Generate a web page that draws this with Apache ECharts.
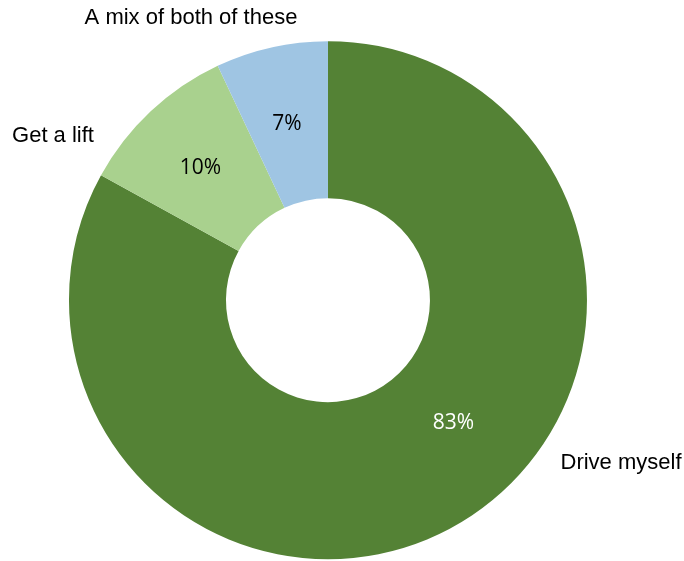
<!DOCTYPE html>
<html>
<head>
<meta charset="utf-8">
<script src="https://cdn.jsdelivr.net/npm/echarts@6/dist/echarts.min.js"></script>
<style>
  html, body { margin: 0; padding: 0; background: #fff; }
  #main { width: 684px; height: 561px; }
</style>
</head>
<body>
<div id="main"></div>
<script>
// 数据
const categories = ['Drive myself', 'Get a lift', 'A mix of both of these'];
const values = [83, 10, 7];
const sliceColors = ['#548235', '#A9D18E', '#9FC5E3'];
const pctColors = ['#ffffff', '#000000', '#000000'];

// 标签位置（Excel 风格）
const namePos = [[621, 463], [53, 136], [191, 18]];
const pctShift = [[32, -35], [-2, 2], [-1, 3]];

let myChart = echarts.init(document.getElementById('main'));

const pieData = categories.map((c, i) => ({
    name: c,
    value: values[i],
    itemStyle: { color: sliceColors[i] },
    label: { color: pctColors[i] }
}));

myChart.setOption({
    animation: false,
    series: [
        {
            type: 'pie',
            center: ['47.95%', '53.5%'],
            radius: [102, 259],
            startAngle: 90,
            clockwise: true,
            silent: true,
            itemStyle: { borderWidth: 0 },
            label: {
                show: true,
                position: 'inside',
                formatter: '{c}%',
                fontFamily: 'Open Sans',
                fontSize: 21
            },
            labelLine: { show: false },
            labelLayout: function (p) {
                return { dx: pctShift[p.dataIndex][0], dy: pctShift[p.dataIndex][1] };
            },
            data: pieData
        },
        {
            type: 'pie',
            center: ['47.95%', '53.5%'],
            radius: [102, 259],
            startAngle: 90,
            clockwise: true,
            silent: true,
            z: 3,
            itemStyle: { color: 'transparent', borderWidth: 0 },
            label: {
                show: true,
                position: 'outside',
                formatter: '{b}',
                color: '#000',
                fontFamily: 'Liberation Sans',
                fontSize: 22
            },
            labelLine: { show: false },
            labelLayout: function (p) {
                return {
                    x: namePos[p.dataIndex][0],
                    y: namePos[p.dataIndex][1],
                    align: 'center',
                    verticalAlign: 'middle'
                };
            },
            data: categories.map((c, i) => ({ name: c, value: values[i] }))
        }
    ]
});
</script>
</body>
</html>
